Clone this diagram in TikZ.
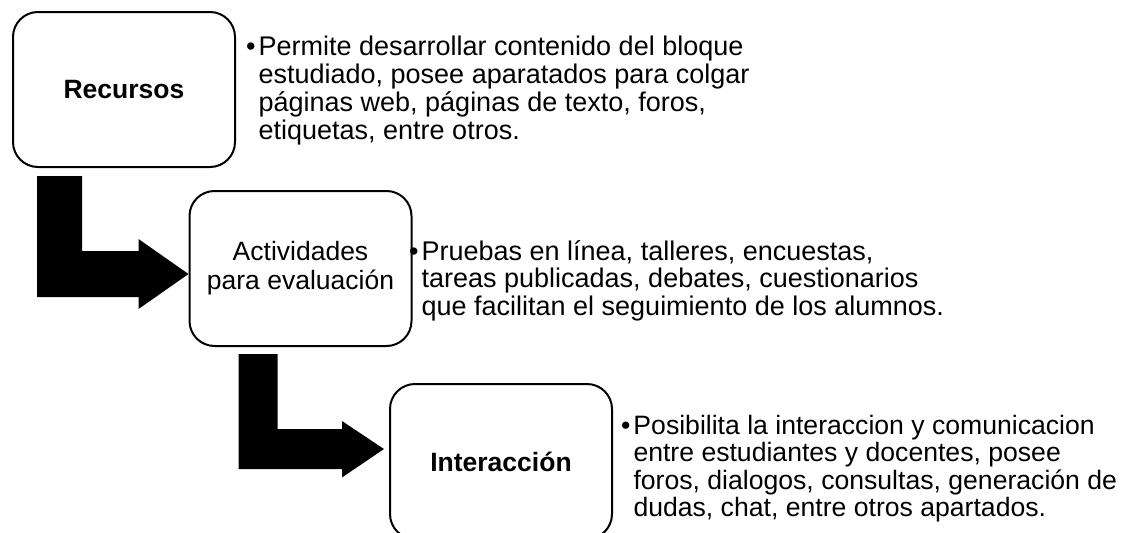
\documentclass[tikz,border=0pt]{standalone}
\usepackage{fontspec}
\setmainfont{Liberation Sans}
\usetikzlibrary{calc}
\tikzset{
  stage box/.style={draw=black,line width=2pt,rounded corners=25pt,minimum width=222pt,minimum height=155pt,align=center,font=\fontsize{26.5}{29}\selectfont},
  flow arrow/.style={fill=black},
  note text/.style={anchor=north west,inner sep=0pt,font=\fontsize{27}{27}\selectfont}
}
\newcommand{\notelines}[1]{\begin{tabular}{@{}l@{\hspace{3pt}}l@{}}#1\end{tabular}}

\begin{document}
\begin{tikzpicture}[x=1pt,y=-1pt]
  \useasboundingbox (0,0) rectangle (1128,533);
  \clip (0,0) rectangle (1128,533);

  % the three stages
  \node[stage box] (rec) at (124,89.5) {\textbf{Recursos}};
  \node[stage box] (act) at (300.5,268.5) {Actividades\\para evaluación};
  \node[stage box] (inter) at (501,461.5) {\textbf{Interacción}};

  % bent arrows between stages
  \fill[flow arrow] ($(rec.south west)+(25,8)$) coordinate (a1) -- ++(45,0)
    |- ($(act.west)+(-50,-17.5)$) -- ++(0,-12) -- ($(act.west)+(0,5.5)$)
    -- ++(-50,35) -- ++(0,-12) -| (a1) -- cycle;
  \fill[flow arrow] ($(act.south west)+(50,7)$) coordinate (a2) -- ++(39,0)
    |- ($(inter.west)+(-47,-32.5)$) -- ++(0,-8) -- ($(inter.west)+(-5,-12.5)$)
    -- ++(-42,28.5) -- ++(0,-8.5) -| (a2) -- cycle;

  % descriptions
  \node[note text] (recnote) at (246,36) {\notelines{%
    \textbullet & Permite desarrollar contenido del bloque\\
    & estudiado, posee aparatados para colgar\\
    & páginas web, páginas de texto, foros,\\
    & etiquetas, entre otros.}};
  \node[note text] (actnote) at (409,240) {\notelines{%
    \textbullet & Pruebas en línea, talleres, encuestas,\\
    & tareas publicadas, debates, cuestionarios\\
    & que facilitan el seguimiento de los alumnos.}};
  \node[note text,font=\fontsize{26.6}{27}\selectfont] (internote) at (621,415) {\notelines{%
    \textbullet & Posibilita la interaccion y comunicacion\\
    & entre estudiantes y docentes, posee\\
    & foros, dialogos, consultas, generación de\\
    & dudas, chat, entre otros apartados.}};
\end{tikzpicture}
\end{document}
